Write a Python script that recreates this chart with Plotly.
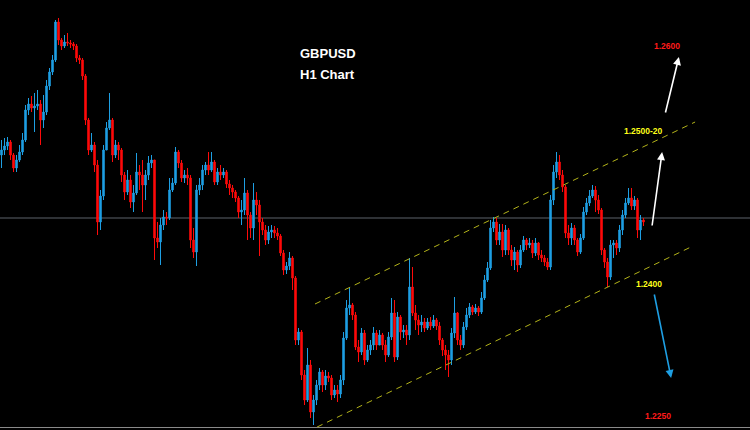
import plotly.graph_objects as go

# ---- Data (GBPUSD H1) ----
first_open = 1.2565
closes = [
1.2570,1.2574,1.2578,1.2565,1.2552,1.2560,1.2568,1.2580,1.2610,1.2616,
1.2612,1.2614,1.2616,1.2600,1.2608,1.2634,1.2648,1.2660,1.2698,1.2680,
1.2674,1.2678,1.2677,1.2676,1.2674,1.2662,1.2660,1.2644,1.2600,1.2570,
1.2575,1.2555,1.2498,1.2524,1.2570,1.2592,1.2600,1.2565,1.2575,1.2570,
1.2545,1.2528,1.2540,1.2518,1.2527,1.2548,1.2545,1.2535,1.2545,1.2557,
1.2560,1.2482,1.2478,1.2495,1.2503,1.2502,1.2530,1.2537,1.2568,1.2557,
1.2542,1.2545,1.2542,1.2480,1.2468,1.2530,1.2535,1.2550,1.2555,1.2550,
1.2558,1.2538,1.2548,1.2545,1.2548,1.2536,1.2532,1.2528,1.2522,1.2508,
1.2510,1.2527,1.2505,1.2492,1.2520,1.2515,1.2498,1.2490,1.2480,1.2488,
1.2490,1.2487,1.2484,1.2467,1.2450,1.2454,1.2462,1.2442,1.2380,1.2388,
1.2345,1.2320,1.2355,1.2308,1.2320,1.2335,1.2348,1.2335,1.2344,1.2342,
1.2325,1.2330,1.2326,1.2340,1.2382,1.2412,1.2415,1.2405,1.2373,1.2368,
1.2387,1.2360,1.2370,1.2375,1.2387,1.2375,1.2385,1.2375,1.2365,1.2383,
1.2407,1.2363,1.2403,1.2388,1.2390,1.2385,1.2433,1.2407,1.2400,1.2395,
1.2398,1.2392,1.2398,1.2394,1.2400,1.2394,1.2380,1.2370,1.2365,1.2360,
1.2387,1.2407,1.2380,1.2375,1.2393,1.2405,1.2413,1.2408,1.2412,1.2408,
1.2422,1.2440,1.2452,1.2492,1.2498,1.2480,1.2488,1.2470,1.2490,1.2470,
1.2460,1.2468,1.2455,1.2470,1.2480,1.2475,1.2477,1.2467,1.2477,1.2465,
1.2462,1.2458,1.2453,1.2520,1.2548,1.2558,1.2545,1.2533,1.2487,1.2482,
1.2492,1.2480,1.2468,1.2482,1.2508,1.2517,1.2524,1.2530,1.2520,1.2510,
1.2470,1.2458,1.2443,1.2475,1.2477,1.2472,1.2490,1.2505,1.2517,1.2522,
1.2514,1.2520,1.2490,1.2500,1.2498]
highs = [
1.2580,1.2582,1.2583,1.2580,1.2567,1.2565,1.2575,1.2587,1.2615,1.2622,
1.2624,1.2627,1.2630,1.2620,1.2625,1.2640,1.2652,1.2665,1.2700,1.2702,
1.2682,1.2685,1.2687,1.2680,1.2678,1.2676,1.2665,1.2662,1.2646,1.2602,
1.2587,1.2578,1.2560,1.2530,1.2575,1.2598,1.2627,1.2602,1.2580,1.2578,
1.2572,1.2548,1.2550,1.2545,1.2535,1.2567,1.2555,1.2560,1.2550,1.2564,
1.2565,1.2560,1.2498,1.2502,1.2510,1.2508,1.2542,1.2542,1.2573,1.2570,
1.2560,1.2550,1.2552,1.2545,1.2492,1.2535,1.2542,1.2555,1.2558,1.2568,
1.2568,1.2560,1.2552,1.2555,1.2552,1.2550,1.2540,1.2535,1.2530,1.2524,
1.2520,1.2542,1.2530,1.2508,1.2537,1.2528,1.2520,1.2502,1.2495,1.2494,
1.2495,1.2494,1.2492,1.2486,1.2470,1.2458,1.2468,1.2464,1.2444,1.2392,
1.2390,1.2350,1.2372,1.2360,1.2325,1.2340,1.2352,1.2350,1.2350,1.2348,
1.2345,1.2335,1.2335,1.2345,1.2388,1.2420,1.2432,1.2417,1.2408,1.2380,
1.2392,1.2390,1.2375,1.2380,1.2393,1.2390,1.2390,1.2387,1.2380,1.2388,
1.2422,1.2420,1.2408,1.2405,1.2395,1.2395,1.2462,1.2453,1.2415,1.2405,
1.2405,1.2402,1.2402,1.2403,1.2405,1.2402,1.2398,1.2382,1.2375,1.2370,
1.2392,1.2423,1.2408,1.2385,1.2398,1.2412,1.2417,1.2415,1.2416,1.2414,
1.2428,1.2445,1.2458,1.2500,1.2503,1.2502,1.2496,1.2496,1.2495,1.2492,
1.2475,1.2473,1.2470,1.2475,1.2484,1.2482,1.2482,1.2480,1.2482,1.2478,
1.2470,1.2465,1.2462,1.2525,1.2555,1.2568,1.2565,1.2550,1.2535,1.2495,
1.2497,1.2495,1.2482,1.2486,1.2513,1.2522,1.2530,1.2535,1.2534,1.2525,
1.2512,1.2472,1.2462,1.2480,1.2480,1.2480,1.2495,1.2510,1.2522,1.2532,
1.2532,1.2524,1.2522,1.2505,1.2502]
lows = [
1.2552,1.2565,1.2570,1.2560,1.2548,1.2548,1.2558,1.2565,1.2578,1.2605,
1.2608,1.2588,1.2610,1.2575,1.2592,1.2605,1.2630,1.2645,1.2658,1.2675,
1.2670,1.2672,1.2674,1.2672,1.2670,1.2658,1.2656,1.2640,1.2595,1.2565,
1.2568,1.2548,1.2485,1.2490,1.2520,1.2570,1.2590,1.2558,1.2562,1.2560,
1.2538,1.2520,1.2525,1.2512,1.2508,1.2525,1.2530,1.2508,1.2520,1.2540,
1.2552,1.2460,1.2472,1.2455,1.2490,1.2495,1.2500,1.2528,1.2535,1.2552,
1.2538,1.2537,1.2535,1.2472,1.2462,1.2454,1.2525,1.2530,1.2545,1.2545,
1.2548,1.2535,1.2535,1.2540,1.2542,1.2532,1.2525,1.2522,1.2518,1.2502,
1.2495,1.2505,1.2480,1.2482,1.2480,1.2505,1.2464,1.2485,1.2475,1.2476,
1.2482,1.2482,1.2480,1.2464,1.2445,1.2446,1.2450,1.2430,1.2375,1.2375,
1.2340,1.2315,1.2318,1.2302,1.2295,1.2315,1.2330,1.2328,1.2330,1.2338,
1.2320,1.2322,1.2318,1.2322,1.2335,1.2380,1.2405,1.2400,1.2370,1.2358,
1.2365,1.2355,1.2358,1.2365,1.2370,1.2370,1.2375,1.2370,1.2358,1.2363,
1.2380,1.2358,1.2360,1.2380,1.2382,1.2375,1.2380,1.2404,1.2390,1.2385,
1.2388,1.2388,1.2390,1.2390,1.2392,1.2390,1.2375,1.2364,1.2350,1.2343,
1.2355,1.2382,1.2375,1.2370,1.2372,1.2390,1.2402,1.2405,1.2406,1.2404,
1.2406,1.2420,1.2438,1.2450,1.2488,1.2475,1.2475,1.2463,1.2465,1.2465,
1.2454,1.2450,1.2448,1.2452,1.2468,1.2470,1.2472,1.2462,1.2464,1.2460,
1.2458,1.2454,1.2450,1.2450,1.2515,1.2542,1.2540,1.2528,1.2482,1.2475,
1.2475,1.2475,1.2464,1.2466,1.2480,1.2505,1.2514,1.2522,1.2508,1.2506,
1.2465,1.2452,1.2433,1.2440,1.2462,1.2465,1.2468,1.2485,1.2502,1.2515,
1.2510,1.2510,1.2482,1.2480,1.2494]
# open of each hour = close of the previous hour
opens = [first_open] + closes[:-1]
bars = list(range(len(closes)))

current_price = 1.2502
channel_upper_x = [104.5, 231.2]
channel_upper_y = [1.2416, 1.2598]
channel_lower_x = [105.2, 230.5]
channel_lower_y = [1.2293, 1.2474]

title_lines = ["GBPUSD", "H1 Chart"]
level_labels = ["1.2600", "1.2500-20", "1.2400", "1.2250"]

UP = "#1e9fe3"
DOWN = "#ff0a0a"
FONT = "Arial, Liberation Sans, sans-serif"

fig = go.Figure()
fig.add_trace(go.Candlestick(
    x=bars, open=opens, high=highs, low=lows, close=closes,
    increasing=dict(line=dict(color=UP, width=1), fillcolor=UP),
    decreasing=dict(line=dict(color=DOWN, width=1), fillcolor=DOWN),
    whiskerwidth=0, hoverinfo="skip", showlegend=False,
))

shapes = [
    dict(type="line", xref="paper", yref="y", x0=0, x1=1,
         y0=current_price, y1=current_price,
         line=dict(color="#5c636b", width=1), layer="below"),
    dict(type="line", xref="paper", yref="paper", x0=0, x1=1,
         y0=0.0058, y1=0.0058, line=dict(color="#8a8a8a", width=1)),
    dict(type="line", xref="x", yref="y",
         x0=channel_upper_x[0], x1=channel_upper_x[1],
         y0=channel_upper_y[0], y1=channel_upper_y[1],
         line=dict(color="#b3b31a", width=1, dash="6px,5px")),
    dict(type="line", xref="x", yref="y",
         x0=channel_lower_x[0], x1=channel_lower_x[1],
         y0=channel_lower_y[0], y1=channel_lower_y[1],
         line=dict(color="#b3b31a", width=1, dash="6px,5px")),
]

def px(xp, yp):
    return xp / 750.0, 1 - yp / 430.0

anns = []
for txt, (xx, yy) in zip(title_lines, [px(298, 53), px(298, 75)]):
    anns.append(dict(text="<b>" + txt + "</b>", x=xx, y=yy, xref="paper", yref="paper",
                     xanchor="left", yanchor="middle", showarrow=False,
                     font=dict(family=FONT, size=13, color="white")))
label_pos = [(667, 46), (643, 131), (649, 284), (658, 416)]
label_col = ["#ff1a1a", "#ffff1a", "#ffff1a", "#ff1a1a"]
for txt, (xp, yp), col in zip(level_labels, label_pos, label_col):
    xx, yy = px(xp, yp)
    anns.append(dict(text="<b>" + txt + "</b>", x=xx, y=yy, xref="paper", yref="paper",
                     xanchor="center", yanchor="middle", showarrow=False,
                     font=dict(family=FONT, size=8.5, color=col)))
for (tx, ty, hx, hy, col) in [
    (216.8, 1.2493, 220.2, 1.2568, "white"),
    (221.2, 1.2606, 225.8, 1.2663, "white"),
    (217.5, 1.2427, 223.2, 1.2342, UP),
]:
    anns.append(dict(x=hx, y=hy, ax=tx, ay=ty, xref="x", yref="y",
                     axref="x", ayref="y", text="", showarrow=True,
                     arrowhead=2, arrowsize=1, arrowwidth=1.6, arrowcolor=col))

fig.update_layout(
    width=750, height=430,
    margin=dict(l=0, r=0, t=0, b=0),
    paper_bgcolor="black", plot_bgcolor="black",
    xaxis=dict(range=[-0.5, 249.5], visible=False, rangeslider=dict(visible=False),
               showgrid=False, zeroline=False, fixedrange=True),
    yaxis=dict(range=[1.2290, 1.2720], visible=False, showgrid=False,
               zeroline=False, fixedrange=True),
    shapes=shapes, annotations=anns, showlegend=False,
)

fig.write_html("out.html", config={"displayModeBar": False},
               post_script="document.body.style.margin='0';document.body.style.padding='0';document.body.style.background='black';")
